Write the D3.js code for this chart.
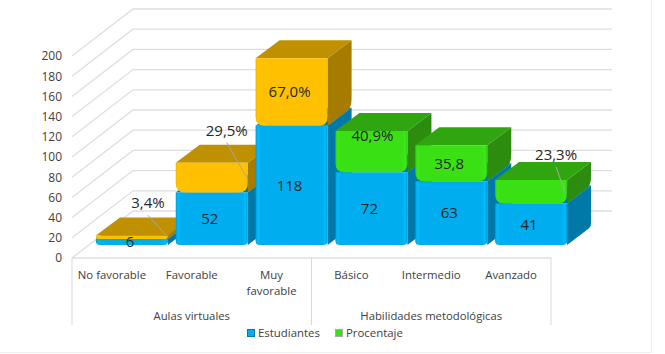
<!DOCTYPE html>
<html>
<head>
<meta charset="utf-8">
<script src="https://cdn.jsdelivr.net/npm/d3@7"></script>
<style>
  html, body { margin: 0; padding: 0; background: #fff; }
  svg { display: block; }
  text { font-family: "Open Sans", sans-serif; fill: #404040; }
</style>
</head>
<body>
<div id="chart"></div>
<script>
// Chart data
const categories = ["No favorable", "Favorable", "Muy favorable", "Básico", "Intermedio", "Avanzado"];
const groups = ["Aulas virtuales", "Habilidades metodológicas"];
const estudiantes = [6, 52, 118, 72, 63, 41];
const procentaje = [3.4, 29.5, 67.0, 40.9, 35.8, 23.3];
const procentajeLabels = ["3,4%", "29,5%", "67,0%", "40,9%", "35,8", "23,3%"];
const yTicks = [0, 20, 40, 60, 80, 100, 120, 140, 160, 180, 200];
const legendNames = ["Estudiantes", "Procentaje"];

const width = 665;
const height = 354;

// Plot box of the front plane
const left = 72;
const right = 551;
const floorY = 258;
const topY = 56;

// 3D offsets: the whole wall, and one bar
const wallDx = 61;
const wallDy = -47;
const barDx = 24;
const barDy = -18;

// The front of the bars stands a little behind the front plane
const shiftX = 20;
const shiftY = -13;
const barWidth = 72;

// Hand placement of the upper labels, relative to the segment centre
const upperLabelShift = [[16, -34], [15, -47], [-2, 0], [1, -16], [-2, 0], [25, -37]];
const leaderEnd = [[34, -2], [35, 0], null, null, null, [34, 1]];

const svg = d3.select("#chart").append("svg").attr("width", width).attr("height", height);

const xScale = d3.scaleBand().domain(categories).range([left, right]);
const yScale = d3.scaleLinear().domain([0, 200]).range([floorY, topY]);

// Gradients for the bevelled front faces
const defs = svg.append("defs");
function addBevel(id, base, edge, dark) {
  const g = defs.append("linearGradient").attr("id", id);
  [[0, dark], [0.03, edge], [0.07, base], [0.93, base], [0.97, edge], [1, dark]].forEach((s) => {
    g.append("stop").attr("offset", s[0]).attr("stop-color", s[1]);
  });
}
addBevel("blueFront", "#00AEEF", "#00BDFF", "#0098D4");
addBevel("yellowFront", "#FFC000", "#FFC400", "#F0B400");
addBevel("greenFront", "#39E014", "#3DE818", "#30C810");

// Back wall and side wall gridlines
const grid = svg.append("g").attr("fill", "none").attr("stroke", "#DEDEDE").attr("stroke-width", 1.3);
yTicks.forEach((t) => {
  const y = yScale(t);
  grid.append("path").attr("d", `M${left},${y}L${left + wallDx},${y + wallDy}H${right + wallDx}`);
});
grid.append("path").attr("d", `M${left},${floorY}H${right}`);

// Multi-level category separators
const sepBottom = 325;
[left, xScale(categories[3]), right].forEach((x) => {
  svg.append("line").attr("x1", x).attr("x2", x).attr("y1", floorY).attr("y2", sepBottom)
    .attr("stroke", "#D9D9D9").attr("stroke-width", 1);
});

// Y axis labels only
const yAxis = svg.append("g")
  .attr("transform", `translate(${left - 10},0)`)
  .call(d3.axisLeft(yScale).tickValues(yTicks).tickSize(0).tickPadding(0));
yAxis.select(".domain").remove();
yAxis.selectAll("text").attr("font-size", 12).style("font-family", '"Open Sans", sans-serif').attr("fill", "#404040");

// Category labels
categories.forEach((c) => {
  const cx = xScale(c) + xScale.bandwidth() / 2;
  const t = svg.append("text").attr("text-anchor", "middle").attr("font-size", 11.4);
  const lines = c === "Muy favorable" ? c.split(" ") : [c];
  lines.forEach((line, i) => {
    t.append("tspan").attr("x", cx).attr("y", 279 + i * 16).text(line);
  });
});

// Group labels centred under their categories
groups.forEach((g, i) => {
  const cx = xScale(categories[i * 3 + 1]) + xScale.bandwidth() / 2;
  svg.append("text").attr("x", cx).attr("y", 320).attr("text-anchor", "middle")
    .attr("font-size", 11.3).text(g);
});

// One box segment: side, top and front faces
function drawSegment(g, x0, yTop, yBottom, c, round) {
  const x1 = x0 + barWidth;
  const r = Math.min(round, (yBottom - yTop) * 0.6);
  g.append("path")
    .attr("d", `M${x1},${yTop}L${x1 + barDx},${yTop + barDy}V${yBottom + barDy - r}` +
      `Q${x1 + barDx},${yBottom + barDy} ${x1 + barDx - r / 2},${yBottom + barDy + r / 3}L${x1},${yBottom}Z`)
    .attr("fill", c.side);
  if (c.top) {
    g.append("path")
      .attr("d", `M${x0},${yTop}L${x0 + barDx},${yTop + barDy}H${x1 + barDx}L${x1},${yTop}Z`)
      .attr("fill", c.top);
  }
  g.append("path")
    .attr("d", `M${x0},${yTop}H${x1}V${yBottom - r}Q${x1},${yBottom} ${x1 - r},${yBottom}` +
      `H${x0 + r}Q${x0},${yBottom} ${x0},${yBottom - r}Z`)
    .attr("fill", c.front);
}

const blue = { front: "url(#blueFront)", side: "#0079A8", top: "#0079A8" };
const upperColors = [
  { front: "url(#yellowFront)", side: "#A67C00", top: "#BF9000" },
  { front: "url(#greenFront)", side: "#2C8C0E", top: "#2FA60F" },
];

// Height in pixels of a value, measured from the bar base
const h = (v) => yScale(0) - yScale(v);
const baseY = yScale(0) + shiftY;

// Data labels are drawn after all the bars
const labelLayer = [];

categories.forEach((c, i) => {
  const x0 = xScale(c) + (xScale.bandwidth() - barWidth) / 2 + shiftX;
  const cx = x0 + barWidth / 2;
  const yMid = baseY - h(estudiantes[i]);
  const yTop = yMid - h(procentaje[i]);
  const g = svg.append("g");
  drawSegment(g, x0, yMid, baseY, blue, 4);
  drawSegment(g, x0, yTop, yMid, upperColors[i < 3 ? 0 : 1], 9);
  const cy = (yTop + yMid) / 2;
  labelLayer.push({ text: estudiantes[i], x: cx - 2, y: (yMid + baseY) / 2 });
  labelLayer.push({
    text: procentajeLabels[i],
    x: cx + upperLabelShift[i][0],
    y: cy + upperLabelShift[i][1],
    end: leaderEnd[i] ? [cx + leaderEnd[i][0], cy + leaderEnd[i][1]] : null,
  });
});

// Labels of the thin segments are pulled out with a leader line
labelLayer.forEach((d) => {
  if (d.end) {
    svg.append("line").attr("x1", d.x).attr("y1", d.y + 12).attr("x2", d.end[0]).attr("y2", d.end[1])
      .attr("stroke", "#A6A6A6").attr("stroke-width", 1);
  }
  svg.append("text").attr("x", d.x).attr("y", d.y).attr("dy", "0.35em")
    .attr("text-anchor", "middle").attr("font-size", 15)
    .style("fill", "#262626").text(d.text);
});

// Legend
const legendX = [247, 335];
const legendColors = ["#00AEEF", "#39E014"];
const legendEdges = ["#0079A8", "#A8A8A8"];
legendNames.forEach((name, i) => {
  svg.append("rect").attr("x", legendX[i]).attr("y", 329).attr("width", 8).attr("height", 8).attr("fill", legendEdges[i]);
  svg.append("rect").attr("x", legendX[i] + 1).attr("y", 330).attr("width", 6).attr("height", 6).attr("fill", legendColors[i]);
  svg.append("text").attr("x", legendX[i] + 11).attr("y", 337).attr("font-size", 11.4).text(name);
});

// Faint frame edge on the right and at the bottom
svg.append("path").attr("d", "M651.5,0V352.5H0").attr("fill", "none").attr("stroke", "#EEEEEE");
</script>
</body>
</html>
